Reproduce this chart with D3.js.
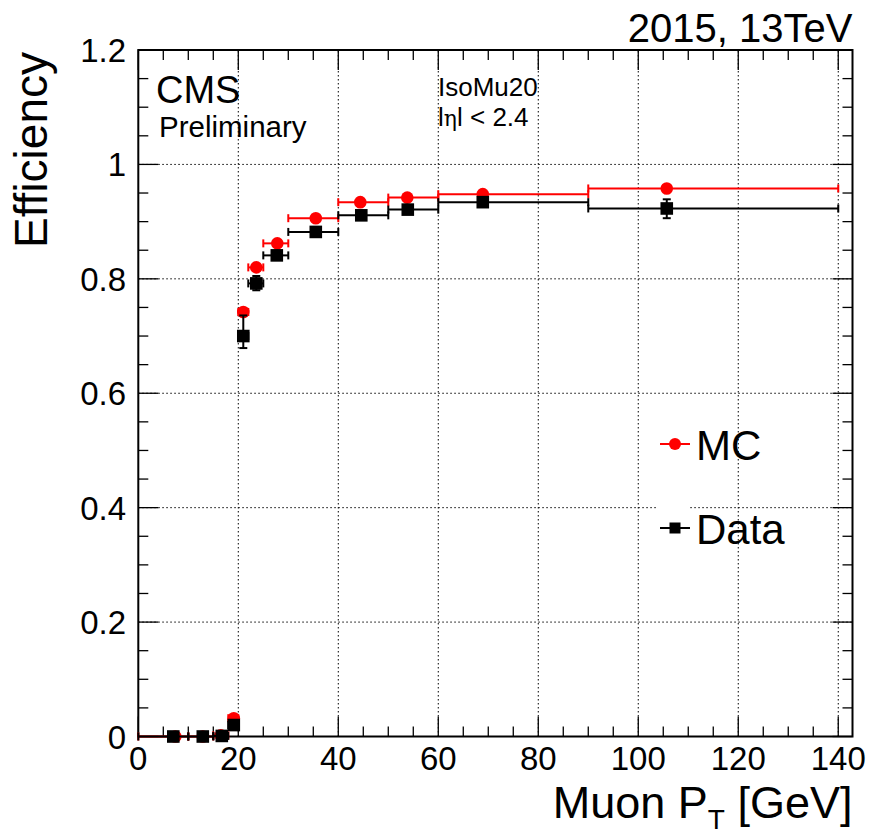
<!DOCTYPE html>
<html><head><meta charset="utf-8">
<script src="https://cdn.jsdelivr.net/npm/d3@7/dist/d3.min.js"></script>
<style>body{margin:0;background:#fff}svg text{font-family:"Liberation Sans",Arial,Helvetica,sans-serif}</style>
</head><body>
<script>
// Bin edges (GeV)
const binLow  = [0, 10, 15, 18, 20, 22, 25, 30, 40, 50, 60, 90];
const binHigh = [10, 15, 18, 20, 22, 25, 30, 40, 50, 60, 90, 140];
// MC series
const mcX   = [7.4, 12.9, 16.5, 19.1, 21.0, 23.6, 27.8, 35.5, 44.4, 53.8, 68.9, 105.7];
const mcY   = [0.0, 0.0, 0.002, 0.032, 0.742, 0.820, 0.862, 0.906, 0.934, 0.942, 0.948, 0.958];
const mcErr = [0.0, 0.0, 0.001, 0.004, 0.004, 0.003, 0.002, 0.001, 0.001, 0.001, 0.001, 0.002];
// Data series
const dataX    = [7.0, 12.9, 16.7, 19.1, 21.0, 23.6, 27.7, 35.5, 44.6, 53.9, 68.9, 105.7];
const dataY    = [0.0, 0.0, 0.001, 0.020, 0.700, 0.792, 0.841, 0.882, 0.911, 0.921, 0.934, 0.923];
const dataErrLo = [0.0, 0.0, 0.001, 0.006, 0.021, 0.012, 0.006, 0.004, 0.004, 0.004, 0.003, 0.017];
const dataErrHi = [0.0, 0.0, 0.002, 0.008, 0.036, 0.013, 0.006, 0.004, 0.004, 0.004, 0.003, 0.016];
// Axis ticks
const xTicks = [0, 20, 40, 60, 80, 100, 120, 140];
const yTicks = [0, 0.2, 0.4, 0.6, 0.8, 1, 1.2];
const yTickLabels = ["0", "0.2", "0.4", "0.6", "0.8", "1", "1.2"];

const W = 874, H = 834;
const L = 138.3, R = 852.5, T = 50, B = 736.5;
const x = d3.scaleLinear().domain([0, 142.85]).range([L, R]);
const y = d3.scaleLinear().domain([0, 1.2]).range([B, T]);

const svg = d3.select("body").append("svg").attr("width", W).attr("height", H);

// grid
const grid = svg.append("g").attr("stroke", "#000").attr("stroke-width", 1).attr("stroke-dasharray", "1.5,2.5");
xTicks.filter(v => v > 0).forEach(v => grid.append("line").attr("x1", x(v)).attr("x2", x(v)).attr("y1", B).attr("y2", T));
yTicks.filter(v => v > 0 && v < 1.2).forEach(v => grid.append("line").attr("x1", L).attr("x2", R).attr("y1", y(v)).attr("y2", y(v)));

// ticks on four sides
const tk = svg.append("g").attr("stroke", "#000").attr("stroke-width", 1.3);
const xMinor = d3.range(0, 142.9, 5);
xMinor.forEach(v => {
  const len = (v % 20 === 0) ? 20 : 10;
  tk.append("line").attr("x1", x(v)).attr("x2", x(v)).attr("y1", B).attr("y2", B - len);
  tk.append("line").attr("x1", x(v)).attr("x2", x(v)).attr("y1", T).attr("y2", T + len);
});
const yMinor = d3.range(0, 1.2001, 0.05);
yMinor.forEach(v => {
  const major = Math.abs(v / 0.2 - Math.round(v / 0.2)) < 1e-6;
  const len = major ? 20 : 10;
  tk.append("line").attr("x1", L).attr("x2", L + len).attr("y1", y(v)).attr("y2", y(v));
  tk.append("line").attr("x1", R).attr("x2", R - len).attr("y1", y(v)).attr("y2", y(v));
});

// frame
svg.append("rect").attr("x", L).attr("y", T).attr("width", R - L).attr("height", B - T)
  .attr("fill", "none").attr("stroke", "#000").attr("stroke-width", 2);

// tick labels
const tl = svg.append("g").attr("font-size", 33).attr("fill", "#000");
xTicks.forEach(v => tl.append("text").attr("x", x(v)).attr("y", 770).attr("text-anchor", "middle").text(v));
yTicks.forEach((v, i) => tl.append("text").attr("x", 126).attr("y", y(v) + 12).attr("text-anchor", "end").text(yTickLabels[i]));

// axis titles
svg.append("text").attr("transform", `translate(47,${T + 2}) rotate(-90)`).attr("text-anchor", "end")
  .attr("font-size", 46).text("Efficiency");
const xt = svg.append("text").attr("x", R).attr("y", 818).attr("text-anchor", "end").attr("font-size", 45);
xt.append("tspan").text("Muon P");
xt.append("tspan").attr("font-size", 28).attr("dy", 11).text("T");
xt.append("tspan").attr("dy", -11).text(" [GeV]");

// labels
svg.append("text").attr("x", R).attr("y", 42).attr("text-anchor", "end").attr("font-size", 40).text("2015, 13TeV");
svg.append("text").attr("x", 156).attr("y", 103).attr("font-size", 38).text("CMS");
svg.append("text").attr("x", 159).attr("y", 137).attr("font-size", 29.5).text("Preliminary");
svg.append("text").attr("x", 438).attr("y", 96).attr("font-size", 26).text("IsoMu20");
const eta = svg.append("text").attr("x", 438).attr("y", 126).attr("font-size", 26);
eta.append("tspan").text("l");
eta.append("tspan").attr("font-family", "DejaVu Serif").attr("font-size", 22).text("η");
eta.append("tspan").text("l < 2.4");

// series drawing
function drawSeries(xs, ys, eLo, eHi, color, shape) {
  const g = svg.append("g").attr("stroke", color).attr("fill", color).attr("stroke-width", 2);
  xs.forEach((xv, i) => {
    const cy = y(ys[i]);
    g.append("line").attr("x1", x(binLow[i])).attr("x2", x(binHigh[i])).attr("y1", cy).attr("y2", cy);
    g.append("line").attr("x1", x(binLow[i])).attr("x2", x(binLow[i])).attr("y1", cy - 4).attr("y2", cy + 4);
    g.append("line").attr("x1", x(binHigh[i])).attr("x2", x(binHigh[i])).attr("y1", cy - 4).attr("y2", cy + 4);
    if (eLo[i] + eHi[i] > 0.004) {
      const y1 = y(ys[i] + eHi[i]), y2 = y(ys[i] - eLo[i]);
      g.append("line").attr("x1", x(xv)).attr("x2", x(xv)).attr("y1", y1).attr("y2", y2);
      g.append("line").attr("x1", x(xv) - 4).attr("x2", x(xv) + 4).attr("y1", y1).attr("y2", y1);
      g.append("line").attr("x1", x(xv) - 4).attr("x2", x(xv) + 4).attr("y1", y2).attr("y2", y2);
    }
  });
  xs.forEach((xv, i) => {
    const cx = x(xv), cy = y(ys[i]);
    if (shape === "circle") g.append("circle").attr("cx", cx).attr("cy", cy).attr("r", 6.3).attr("stroke", "none");
    else g.append("rect").attr("x", cx - 6.3).attr("y", cy - 6.3).attr("width", 12.6).attr("height", 12.6).attr("stroke", "none");
  });
}
drawSeries(mcX, mcY, mcErr, mcErr, "#ff0000", "circle");
drawSeries(dataX, dataY, dataErrLo, dataErrHi, "#000000", "square");

// legend
const lg = svg.append("g");
lg.append("rect").attr("x", 658).attr("y", 503).attr("width", 32).attr("height", 10).attr("fill", "#fff");
lg.append("line").attr("x1", 660).attr("x2", 690).attr("y1", 444).attr("y2", 444).attr("stroke", "#ff0000").attr("stroke-width", 2);
lg.append("circle").attr("cx", 675).attr("cy", 444).attr("r", 6).attr("fill", "#ff0000");
lg.append("text").attr("x", 696).attr("y", 460).attr("font-size", 42).text("MC");
lg.append("line").attr("x1", 660).attr("x2", 690).attr("y1", 528).attr("y2", 528).attr("stroke", "#000").attr("stroke-width", 2);
lg.append("rect").attr("x", 669.5).attr("y", 522.5).attr("width", 11).attr("height", 11).attr("fill", "#000");
lg.append("text").attr("x", 696).attr("y", 544).attr("font-size", 42).text("Data");
</script>
</body></html>
